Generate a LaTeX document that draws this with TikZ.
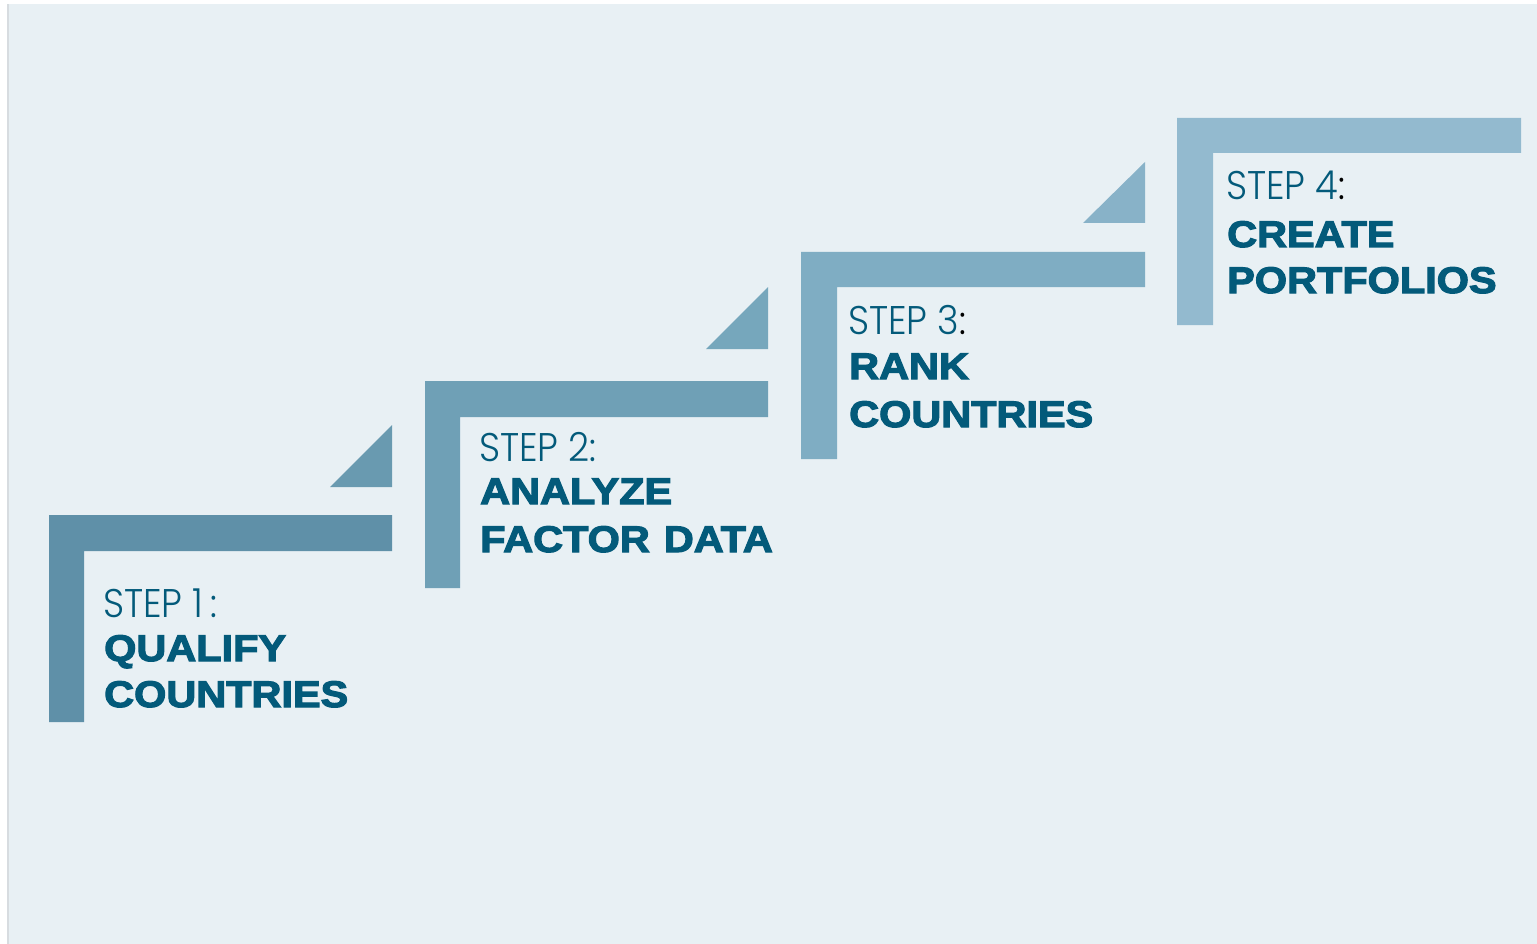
\documentclass[tikz,border=0pt]{standalone}
\usepackage{fontspec}
\setmainfont{Liberation Sans}
\newfontfamily\headfont{Liberation Sans}[BoldFont={Liberation Sans Bold}, BoldFeatures={FakeBold=3.2, FakeStretch=1.12}]
\newfontfamily\stepfont{Poppins Light}[FakeStretch=0.92]
\definecolor{panel}{RGB}{232,240,244}
\definecolor{edge}{RGB}{215,220,224}
\definecolor{ink}{RGB}{3,90,122}
\definecolor{barA}{RGB}{95,144,168}
\definecolor{barB}{RGB}{111,160,182}
\definecolor{barC}{RGB}{127,173,195}
\definecolor{barD}{RGB}{147,186,207}
\definecolor{triA}{RGB}{105,154,176}
\definecolor{triB}{RGB}{118,167,188}
\definecolor{triC}{RGB}{136,178,200}
\tikzset{
  steplabel/.style={anchor=base west, inner sep=0pt, text=ink, font=\stepfont\fontsize{40}{40}\selectfont},
  steptitle/.style={anchor=base west, inner sep=0pt, text=ink, font=\headfont\bfseries\fontsize{37}{37}\selectfont},
}
\newcommand{\wordgap}{\hspace{0.38em}}
\begin{document}
\begin{tikzpicture}[x=1pt, y=-1pt]
  \useasboundingbox (0,0) rectangle (1537,944);
  \fill[white] (0,0) rectangle (1537,944);
  \fill[edge] (7,4) rectangle (9,944);
  \fill[panel] (8.5,4) rectangle (1537,944);

  % L-shaped brackets, one per step
  \fill[barA] (49,515) -- (392,515) -- (392,551) -- (84,551) -- (84,722) -- (49,722) -- cycle;
  \fill[barB] (425,381) -- (768,381) -- (768,417) -- (460,417) -- (460,588) -- (425,588) -- cycle;
  \fill[barC] (801,252) -- (1145,252) -- (1145,287) -- (837,287) -- (837,459) -- (801,459) -- cycle;
  \fill[barD] (1177,118) -- (1521,118) -- (1521,153) -- (1213,153) -- (1213,325) -- (1177,325) -- cycle;

  % corner wedges leading up to the next step
  \fill[triA] (330,487) -- (392,487) -- (392,425) -- cycle;
  \fill[triB] (706,349) -- (768,349) -- (768,287) -- cycle;
  \fill[triC] (1083,223) -- (1145,223) -- (1145,162) -- cycle;

  % step texts
  \node[steplabel] (s1) at (103,617) {STEP 1\,:};
  \node[steptitle] (t1a) at (104,661) {QUALIFY};
  \node[steptitle] (t1b) at (104,707) {COUNTRIES};

  \node[steplabel] (s2) at (479,461) {STEP 2:};
  \node[steptitle] (t2a) at (480,504) {ANALYZE};
  \node[steptitle] (t2b) at (480,552) {FACTOR\wordgap DATA};

  \node[steplabel] (s3) at (848,334) {STEP 3\textcolor{black}{:}};
  \node[steptitle] (t3a) at (849,379) {RANK};
  \node[steptitle] (t3b) at (849,427) {COUNTRIES};

  \node[steplabel] (s4) at (1226,200) {STEP 4\textcolor{black}{:}};
  \node[steptitle] (t4a) at (1227,247) {CREATE};
  \node[steptitle] (t4b) at (1227,293) {PORTFOLIOS};
\end{tikzpicture}
\end{document}
